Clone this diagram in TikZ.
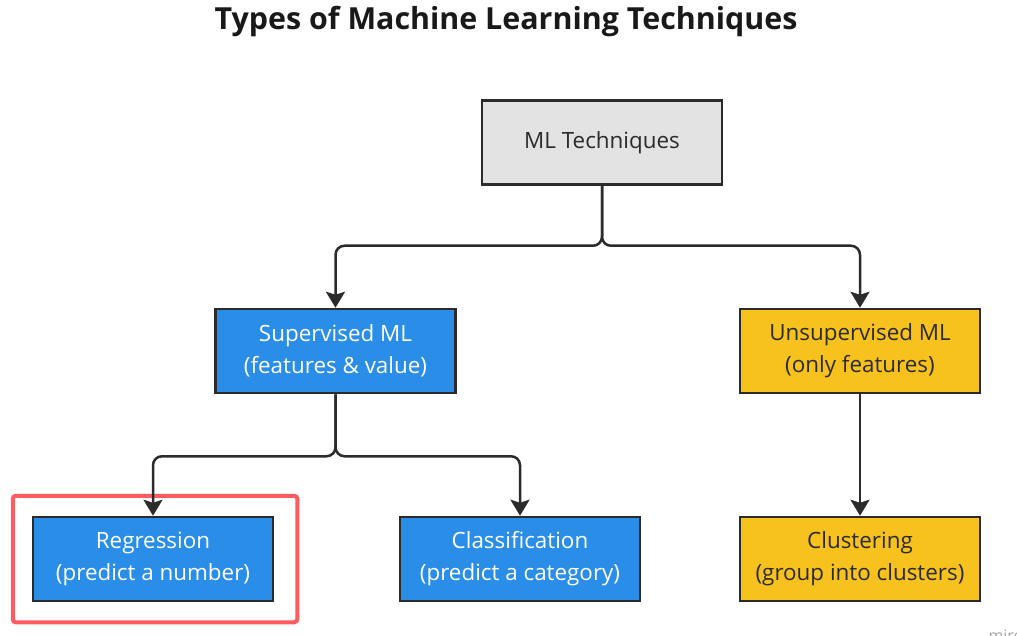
\documentclass[tikz,border=0pt]{standalone}
\usepackage{fontspec}
\setmainfont{Open Sans}
\usetikzlibrary{positioning, arrows.meta, fit, calc}
\definecolor{mlgray}{HTML}{E3E3E3}
\definecolor{mlblue}{HTML}{2A8DE8}
\definecolor{mlyellow}{HTML}{F7C11E}
\definecolor{mlline}{HTML}{2B2B2B}
\definecolor{mlred}{HTML}{FF5B60}

\begin{document}
\begin{tikzpicture}[
    x=1pt, y=-1pt,
    box/.style={draw=mlline, line width=2.5pt, align=center, font=\fontsize{22.4}{32}\selectfont, minimum width=240pt, minimum height=84pt, inner sep=0pt},
    rootbox/.style={box, fill=mlgray, text=mlline},
    supbox/.style={box, fill=mlblue, text=white},
    unsupbox/.style={box, fill=mlyellow, text=mlline},
    arr/.style={-{Stealth[length=16pt, width=19pt, inset=3pt]}, line width=2.5pt, draw=mlline, rounded corners=9pt},
    hilite/.style={draw=mlred, line width=4pt, rounded corners=3pt}
  ]
  \useasboundingbox (0,0) rectangle (1017,636);
  \fill[white] (0,0) rectangle (1017,636);

  % title
  \node[font=\fontsize{30.4}{34}\selectfont\bfseries, text=black!90, anchor=base] (title) at (506,30) {Types of Machine Learning Techniques};

  % tree
  \node[rootbox] (ml) at (602,142.5) {ML Techniques};
  \node[supbox] (super) at (335.5,351) {Supervised ML\\(features \& value)};
  \node[unsupbox] (unsuper) at (860,351) {Unsupervised ML\\(only features)};
  \node[supbox] (reg) at (153,559) {Regression\\(predict a number)};
  \node[supbox] (cls) at (520,559) {Classification\\(predict a category)};
  \node[unsupbox] (clu) at (860,559) {Clustering\\(group into clusters)};

  % highlight
  \node[hilite, fit=(reg), inner xsep=21pt, inner ysep=20pt, xshift=2pt] (hl) {};

  % connectors
  \coordinate (j1) at ($(ml.south)+(0,60)$);
  \coordinate (j2) at ($(super.south)+(0,62)$);
  \draw[arr] (ml.south) -- (j1) -| (super.north);
  \draw[arr] (ml.south) -- (j1) -| (unsuper.north);
  \draw[arr] (super.south) -- (j2) -| (reg.north);
  \draw[arr] (super.south) -- (j2) -| (cls.north);
  \draw[arr] (unsuper) -- (clu);

  % watermark
  \node[font=\fontsize{16}{16}\selectfont, text=black!35, anchor=base west] (wm) at (985,641) {miro};
\end{tikzpicture}
\end{document}
